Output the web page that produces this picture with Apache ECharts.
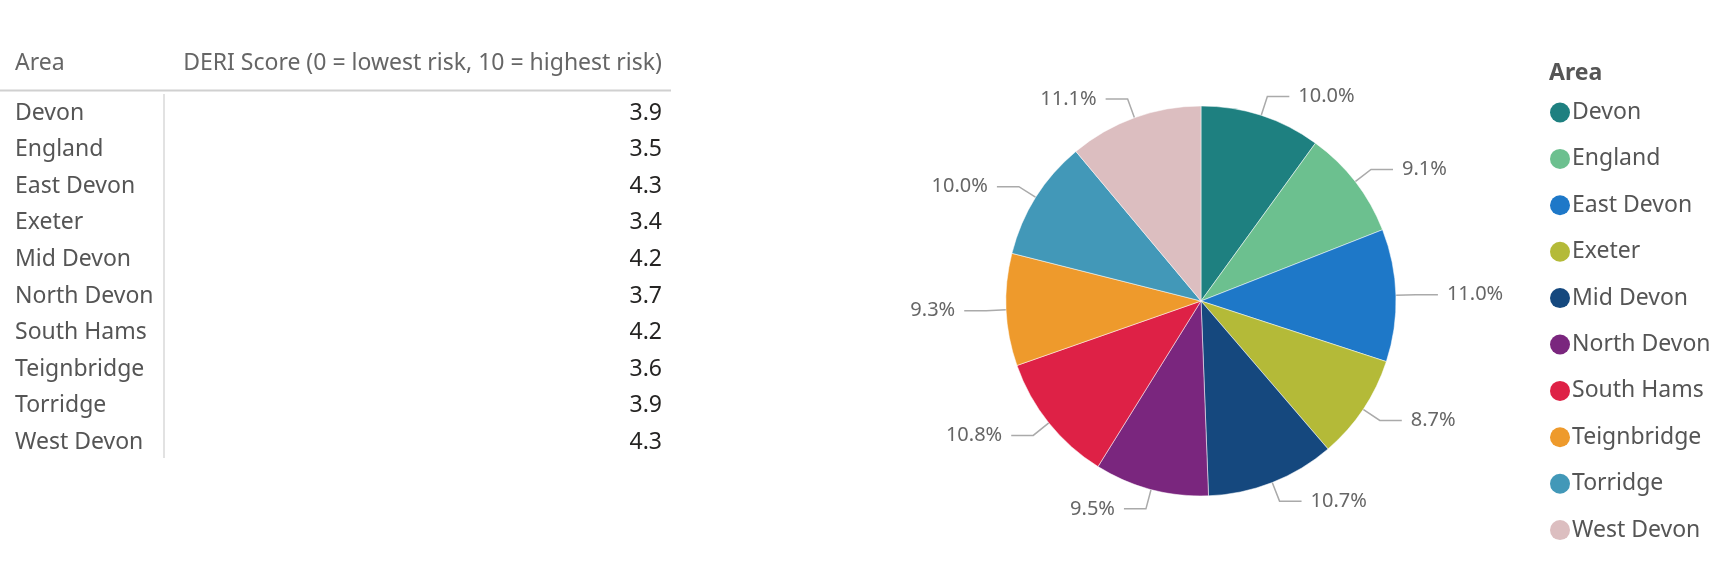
<!DOCTYPE html>
<html>
<head>
<meta charset="utf-8">
<title>DERI Score by Area</title>
<script src="https://cdn.jsdelivr.net/npm/echarts@6/dist/echarts.min.js"></script>
<style>
  html, body { margin: 0; padding: 0; background: #fff; }
  #main { width: 1730px; height: 571px; }
</style>
</head>
<body>
<div id="main"></div>
<script>
// data
var areas = ['Devon', 'England', 'East Devon', 'Exeter', 'Mid Devon', 'North Devon',
  'South Hams', 'Teignbridge', 'Torridge', 'West Devon'];
var scores = [3.90, 3.54, 4.29, 3.39, 4.17, 3.70, 4.21, 3.63, 3.90, 4.33];
var headers = ['Area', 'DERI Score (0 = lowest risk, 10 = highest risk)'];
var colors = ['#1e8080', '#6cc08f', '#1e78c8', '#b4ba38', '#15487e', '#7a267e',
  '#de2146', '#ee9a2c', '#4298b8', '#dcbec0'];

var font = '"Noto Sans", "Open Sans", sans-serif';
var myChart = echarts.init(document.getElementById('main'));

// table drawn as graphic elements
var table = [];
table.push({ type: 'text', x: 15, y: 63,
  style: { text: headers[0], fontFamily: font, fontSize: 23, fill: '#666', textVerticalAlign: 'middle' } });
table.push({ type: 'text', x: 662, y: 63,
  style: { text: headers[1], fontFamily: font, fontSize: 23, fill: '#666',
    textAlign: 'right', textVerticalAlign: 'middle' } });
table.push({ type: 'line', shape: { x1: 0, y1: 90.5, x2: 671, y2: 90.5 },
  style: { stroke: '#d0d0d0', lineWidth: 2 } });
table.push({ type: 'line', shape: { x1: 164, y1: 94, x2: 164, y2: 458 },
  style: { stroke: '#d8d8d8', lineWidth: 1.5 } });
for (var i = 0; i < areas.length; i++) {
  var y = 113 + i * 36.6;
  table.push({ type: 'text', x: 15, y: y,
    style: { text: areas[i], fontFamily: font, fontSize: 23, fill: '#555', textVerticalAlign: 'middle' } });
  table.push({ type: 'text', x: 662, y: y,
    style: { text: scores[i].toFixed(1), fontFamily: font, fontSize: 23, fill: '#252423',
      textAlign: 'right', textVerticalAlign: 'middle' } });
}

var pieData = [];
for (var j = 0; j < areas.length; j++) {
  pieData.push({ name: areas[j], value: scores[j], itemStyle: { color: colors[j] } });
}

var option = {
  backgroundColor: '#fff',
  animation: false,
  title: {
    text: 'Area',
    left: 1544,
    top: 57,
    textStyle: { fontFamily: font, fontSize: 23, fontWeight: 'bold', color: '#555' }
  },
  legend: {
    orient: 'vertical',
    left: 1545,
    top: 96,
    icon: 'circle',
    itemWidth: 20,
    itemHeight: 20,
    itemGap: 23.4,
    itemStyle: { borderWidth: 0 },
    textStyle: { fontFamily: font, fontSize: 23, color: '#555', lineHeight: 22, padding: [0, 0, 0, -3] },
    data: areas
  },
  graphic: table,
  series: [{
    type: 'pie',
    center: [1201, 301],
    radius: 195,
    startAngle: 90,
    clockwise: true,
    data: pieData,
    itemStyle: { borderColor: '#fff', borderWidth: 0.5 },
    label: {
      show: true,
      position: 'outside',
      fontFamily: font,
      fontSize: 20,
      color: '#666',
      distanceToLabelLine: 9,
      formatter: function (p) { return p.percent.toFixed(1) + '%'; }
    },
    labelLine: {
      show: true,
      length: 20,
      length2: 22,
      lineStyle: { color: '#aaa', width: 1.5 }
    },
    emphasis: { disabled: true }
  }]
};
myChart.setOption(option);
</script>
</body>
</html>
